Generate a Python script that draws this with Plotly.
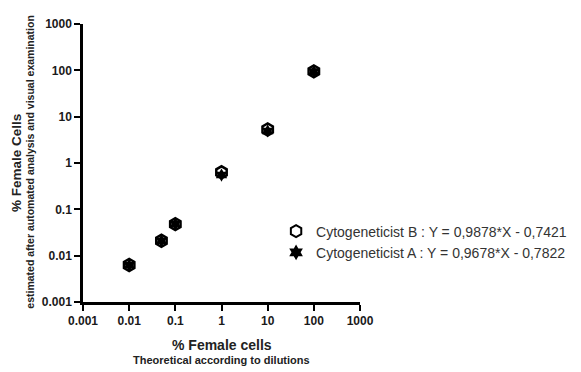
import plotly.graph_objects as go

x_vals = [0.01, 0.05, 0.1, 1, 10, 100]
b_vals = [0.0063, 0.021, 0.048, 0.63, 5.3, 95]
a_vals = [0.0062, 0.021, 0.048, 0.55, 4.9, 94]
tick_vals = [0.001, 0.01, 0.1, 1, 10, 100, 1000]
tick_text = ["0.001", "0.01", "0.1", "1", "10", "100", "1000"]
name_b = "Cytogeneticist B : Y = 0,9878*X - 0,7421"
name_a = "Cytogeneticist A : Y = 0,9678*X - 0,7822"

FONT = "Liberation Sans, Arial, sans-serif"

fig = go.Figure()
fig.add_trace(go.Scatter(
    x=x_vals, y=a_vals, mode="markers", name=name_a,
    marker=dict(symbol="hexagram", size=10, color="black", line=dict(width=0)),
))
fig.add_trace(go.Scatter(
    x=x_vals, y=b_vals, mode="markers", name=name_b,
    marker=dict(symbol="hexagon-open", size=12, color="black", line=dict(width=2.5, color="black")),
))

axis_common = dict(
    type="log", range=[-3, 3], tickvals=tick_vals, ticktext=tick_text,
    showline=True, linecolor="black", linewidth=2.5, ticks="outside",
    ticklen=6, tickwidth=2, tickcolor="black", showgrid=False, zeroline=False,
    tickfont=dict(family=FONT, size=12, color="#1a1a1a", weight="bold"),
)
fig.update_xaxes(**axis_common)
fig.update_yaxes(**axis_common)

fig.update_layout(
    width=581, height=364,
    margin=dict(l=75, r=229, t=16, b=70, autoexpand=False),
    paper_bgcolor="white", plot_bgcolor="white",
    font=dict(family=FONT, color="#222"),
    legend=dict(x=0.697, y=0.311, xanchor="left", yanchor="top", traceorder="reversed",
                font=dict(family=FONT, size=14, color="#333"), bgcolor="rgba(0,0,0,0)",
                itemsizing="constant"),
    showlegend=True,
    annotations=[
        dict(text="<b>% Female cells</b>", xref="paper", yref="paper", x=0.5, y=-0.155,
             showarrow=False, xanchor="center", yanchor="middle", font=dict(size=14, family=FONT, color="#222")),
        dict(text="<b>Theoretical according to dilutions</b>", xref="paper", yref="paper", x=0.5, y=-0.209,
             showarrow=False, xanchor="center", yanchor="middle", font=dict(size=11, family=FONT, color="#222")),
        dict(text="<b>% Female Cells</b>", xref="paper", yref="paper", x=-0.242, y=0.5,
             textangle=-90, showarrow=False, xanchor="center", yanchor="middle", font=dict(size=13.5, family=FONT, color="#222")),
        dict(text="<b>estimated after automated analysis and visual examination</b>", xref="paper", yref="paper",
             x=-0.191, y=0.505, textangle=-90, showarrow=False, xanchor="center", yanchor="middle",
             font=dict(size=10.5, family=FONT, color="#222")),
    ],
)
fig.write_html("out.html")
